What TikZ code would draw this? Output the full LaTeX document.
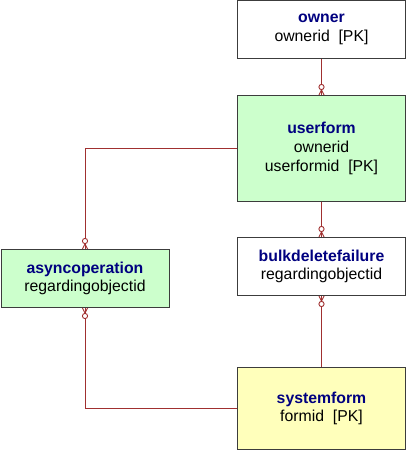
\documentclass[tikz,border=0pt]{standalone}
\usepackage{fontspec}
\setmainfont{Liberation Sans}
\definecolor{erred}{RGB}{160,48,48}
\definecolor{ttl}{RGB}{0,0,128}
\definecolor{boxgreen}{RGB}{204,255,204}
\definecolor{boxyellow}{RGB}{255,255,187}
\definecolor{boxedge}{RGB}{60,60,60}
\begin{document}
\begin{tikzpicture}[x=1pt,y=1pt,
  ent/.style={draw=boxedge,line width=1pt,rectangle,anchor=north west,inner sep=0pt,
    align=center,font=\fontsize{15.8}{18.8}\selectfont},
  erline/.style={draw=erred,line width=0.9pt},
  zmany/.pic={
    \draw[erline] (0,0)--(5,0);
    \draw[erline] (5,0)--(0,2.6) (5,0)--(0,-2.6);
    \draw[erline,fill=white] (8,0) circle (2.6);
  }]
\useasboundingbox (0,0) rectangle (406,-450);
\newcommand{\ttlt}[1]{{\color{ttl}\bfseries #1}}
\node[ent,fill=white,minimum width=168,minimum height=58] (owner) at (237,0.5)
  {\ttlt{owner}\\ownerid\ \ [PK]};
\node[ent,fill=boxgreen,minimum width=168,minimum height=106] (userform) at (237,-95)
  {\ttlt{userform}\\ownerid\\userformid\ \ [PK]};
\node[ent,fill=white,minimum width=168,minimum height=58] (bulk) at (237,-237)
  {\ttlt{bulkdeletefailure}\\regardingobjectid};
\node[ent,fill=boxgreen,minimum width=168,minimum height=58] (async) at (0.5,-249)
  {\ttlt{asyncoperation}\\regardingobjectid};
\node[ent,fill=boxyellow,minimum width=168,minimum height=82] (sysform) at (237,-367)
  {\ttlt{systemform}\\formid\ \ [PK]};
\draw[erline] (owner.south) -- (userform.north);
\draw[erline] (userform.south) -- (bulk.north);
\draw[erline] (sysform.north) -- (bulk.south);
\draw[erline] (userform.west) -| (async.north);
\draw[erline] (sysform.west) -| (async.south);
\pic[rotate=90] at (userform.north) {zmany};
\pic[rotate=90] at (bulk.north) {zmany};
\pic[rotate=90] at (async.north) {zmany};
\pic[rotate=-90] at (bulk.south) {zmany};
\pic[rotate=-90] at (async.south) {zmany};
\end{tikzpicture}
\end{document}
